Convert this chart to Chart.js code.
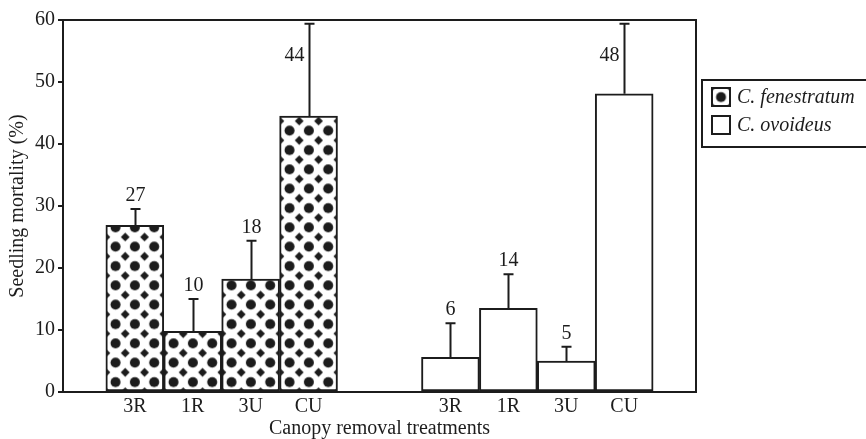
<!DOCTYPE html>
<html>
<head>
<meta charset="utf-8">
<script src="https://cdn.jsdelivr.net/npm/chart.js@4"></script>
<style>
  body { margin: 0; background: #fff; }
  canvas { display: block; }
</style>
</head>
<body>
<canvas id="chart1" width="866" height="439"></canvas>
<script>
var treatments = ['3R', '1R', '3U', 'CU'];
var speciesNames = ['C. fenestratum', 'C. ovoideus'];

// mean mortality (%) and upper error
var fenestratumMortality = [26.9, 9.8, 18.2, 44.5];
var fenestratumError = [2.6, 5.2, 6.2, 14.9];
var fenestratumLabels = ['27', '10', '18', '44'];

var ovoideusMortality = [5.6, 13.5, 5.0, 48.1];
var ovoideusError = [5.5, 5.5, 2.3, 11.3];
var ovoideusLabels = ['6', '14', '5', '48'];

var yTicks = [0, 10, 20, 30, 40, 50, 60];

var INK = '#1c1c1c';
var FONT = 'Liberation Serif';
var GROUP_GAP = 1.45;   // gap between the two groups, in bar widths
var EDGE = 0.74;        // space left/right of the groups, in bar widths

function xPos(group, i) {
	return group * (treatments.length + GROUP_GAP) + i;
}

function toPoints(group, values) {
	return values.map(function (v, i) {
		return { x: xPos(group, i), y: v };
	});
}

var tickPositions = [];
var tickLabels = [];
[0, 1].forEach(function (g) {
	treatments.forEach(function (t, i) {
		tickPositions.push(xPos(g, i));
		tickLabels.push(t);
	});
});

// dotted fill: big dots with small diamonds in between
var CELL = 58 / 3;
function makePattern() {
	var c = document.createElement('canvas');
	c.width = 58;
	c.height = 58;
	var p = c.getContext('2d');
	p.fillStyle = '#fff';
	p.fillRect(0, 0, 58, 58);
	p.fillStyle = INK;
	for (var i = 0; i < 3; i++) {
		for (var j = 0; j < 3; j++) {
			p.beginPath();
			p.arc(CELL / 2 + i * CELL, CELL / 2 + j * CELL, 5, 0, Math.PI * 2);
			p.fill();
		}
	}
	for (var i = 0; i <= 3; i++) {
		for (var j = 0; j <= 3; j++) {
			var cx = i * CELL, cy = j * CELL, r = 4.4;
			p.beginPath();
			p.moveTo(cx, cy - r);
			p.lineTo(cx + r, cy);
			p.lineTo(cx, cy + r);
			p.lineTo(cx - r, cy);
			p.closePath();
			p.fill();
		}
	}
	return p.createPattern(c, 'repeat');
}
var dots = makePattern();

var errorBars = {
	id: 'errorBars',
	beforeDatasetsDraw: function (chart) {
		var xs = chart.scales.x;
		var ox = xs.getPixelForValue(xPos(0, 0) - 0.5);
		var oy = chart.chartArea.bottom - 10 - CELL / 2;
		dots.setTransform(new DOMMatrix([1, 0, 0, 1, ox, oy]));
	},
	afterDatasetsDraw: function (chart) {
		var ctx = chart.ctx;
		var ys = chart.scales.y;
		ctx.save();
		ctx.strokeStyle = INK;
		ctx.fillStyle = INK;
		ctx.lineWidth = 2;
		ctx.font = '20px "' + FONT + '"';
		chart.data.datasets.forEach(function (ds, d) {
			var meta = chart.getDatasetMeta(d);
			meta.data.forEach(function (bar, i) {
				var x = Math.round(bar.x) + 0.5;
				var top = ys.getPixelForValue(ds.data[i].y + ds.errors[i]);
				ctx.beginPath();
				ctx.moveTo(x, bar.y);
				ctx.lineTo(x, top);
				ctx.moveTo(x - 5, top);
				ctx.lineTo(x + 5, top);
				ctx.stroke();
				ctx.textBaseline = 'alphabetic';
				if (top - 30 < chart.chartArea.top) {
					ctx.textAlign = 'right';
					ctx.fillText(ds.valueLabels[i], x - 5, top + 37);
				} else {
					ctx.textAlign = 'center';
					ctx.fillText(ds.valueLabels[i], x, top - 8);
				}
			});
		});
		ctx.restore();
	},
	afterDraw: function (chart) {
		var ctx = chart.ctx;
		var a = chart.chartArea;
		ctx.save();
		ctx.strokeStyle = INK;
		ctx.lineWidth = 2;
		ctx.strokeRect(a.left, a.top, a.right - a.left, a.bottom - a.top);

		// legend box
		ctx.strokeRect(702, 80, 170, 67);
		var rows = [97, 125];
		ctx.font = 'italic 20px "' + FONT + '"';
		ctx.textBaseline = 'alphabetic';
		ctx.textAlign = 'left';
		chart.data.datasets.forEach(function (ds, d) {
			var cy = rows[d];
			var sx = 712, sy = cy - 9;
			if (ds.backgroundColor === dots) {
				dots.setTransform(new DOMMatrix([1, 0, 0, 1, sx + 9 - CELL / 2, cy - CELL / 2]));
			}
			ctx.fillStyle = ds.backgroundColor;
			ctx.fillRect(sx, sy, 18, 18);
			ctx.strokeRect(sx, sy, 18, 18);
			ctx.fillStyle = INK;
			ctx.fillText(ds.label, 737, cy + 6);
		});
		ctx.restore();
	}
};

var ctx = document.getElementById('chart1').getContext('2d');
new Chart(ctx, {
	type: 'bar',
	data: {
		datasets: [{
			label: speciesNames[0],
			data: toPoints(0, fenestratumMortality),
			errors: fenestratumError,
			valueLabels: fenestratumLabels,
			backgroundColor: dots,
			borderColor: INK,
			borderWidth: 2,
			borderSkipped: false,
			grouped: false,
			barPercentage: 1,
			categoryPercentage: 1
		}, {
			label: speciesNames[1],
			data: toPoints(1, ovoideusMortality),
			errors: ovoideusError,
			valueLabels: ovoideusLabels,
			backgroundColor: '#ffffff',
			borderColor: INK,
			borderWidth: 2,
			borderSkipped: false,
			grouped: false,
			barPercentage: 1,
			categoryPercentage: 1
		}]
	},
	options: {
		responsive: false,
		animation: false,
		layout: {
			padding: { top: 20, right: 170, left: 0, bottom: 0 }
		},
		plugins: {
			legend: { display: false },
			tooltip: { enabled: false }
		},
		scales: {
			x: {
				type: 'linear',
				offset: false,
				min: xPos(0, 0) - 0.5 - EDGE,
				max: xPos(1, treatments.length - 1) + 0.5 + EDGE,
				afterBuildTicks: function (scale) {
					scale.ticks = tickPositions.map(function (v) { return { value: v }; });
				},
				afterFit: function (scale) { scale.height = 47; },
				grid: { display: false, drawTicks: false },
				border: { display: false },
				ticks: {
					autoSkip: false,
					maxRotation: 0,
					padding: 3,
					color: INK,
					font: { family: FONT, size: 20 },
					callback: function (v, i) { return tickLabels[i]; }
				},
				title: {
					display: true,
					text: 'Canopy removal treatments',
					color: INK,
					font: { family: FONT, size: 20 },
					padding: { top: 0, bottom: -2 }
				}
			},
			y: {
				min: yTicks[0],
				max: yTicks[yTicks.length - 1],
				afterBuildTicks: function (scale) {
					scale.ticks = yTicks.map(function (v) { return { value: v }; });
				},
				afterFit: function (scale) { scale.width = 63; },
				grid: {
					display: true,
					drawOnChartArea: false,
					drawTicks: true,
					tickLength: 5,
					color: INK,
					lineWidth: 2
				},
				border: { display: false },
				ticks: {
					padding: 3,
					color: INK,
					font: { family: FONT, size: 20 }
				},
				title: {
					display: true,
					text: 'Seedling mortality (%)',
					color: INK,
					font: { family: FONT, size: 20 },
					padding: { top: 6, bottom: 0 }
				}
			}
		}
	},
	plugins: [errorBars]
});
</script>
</body>
</html>
